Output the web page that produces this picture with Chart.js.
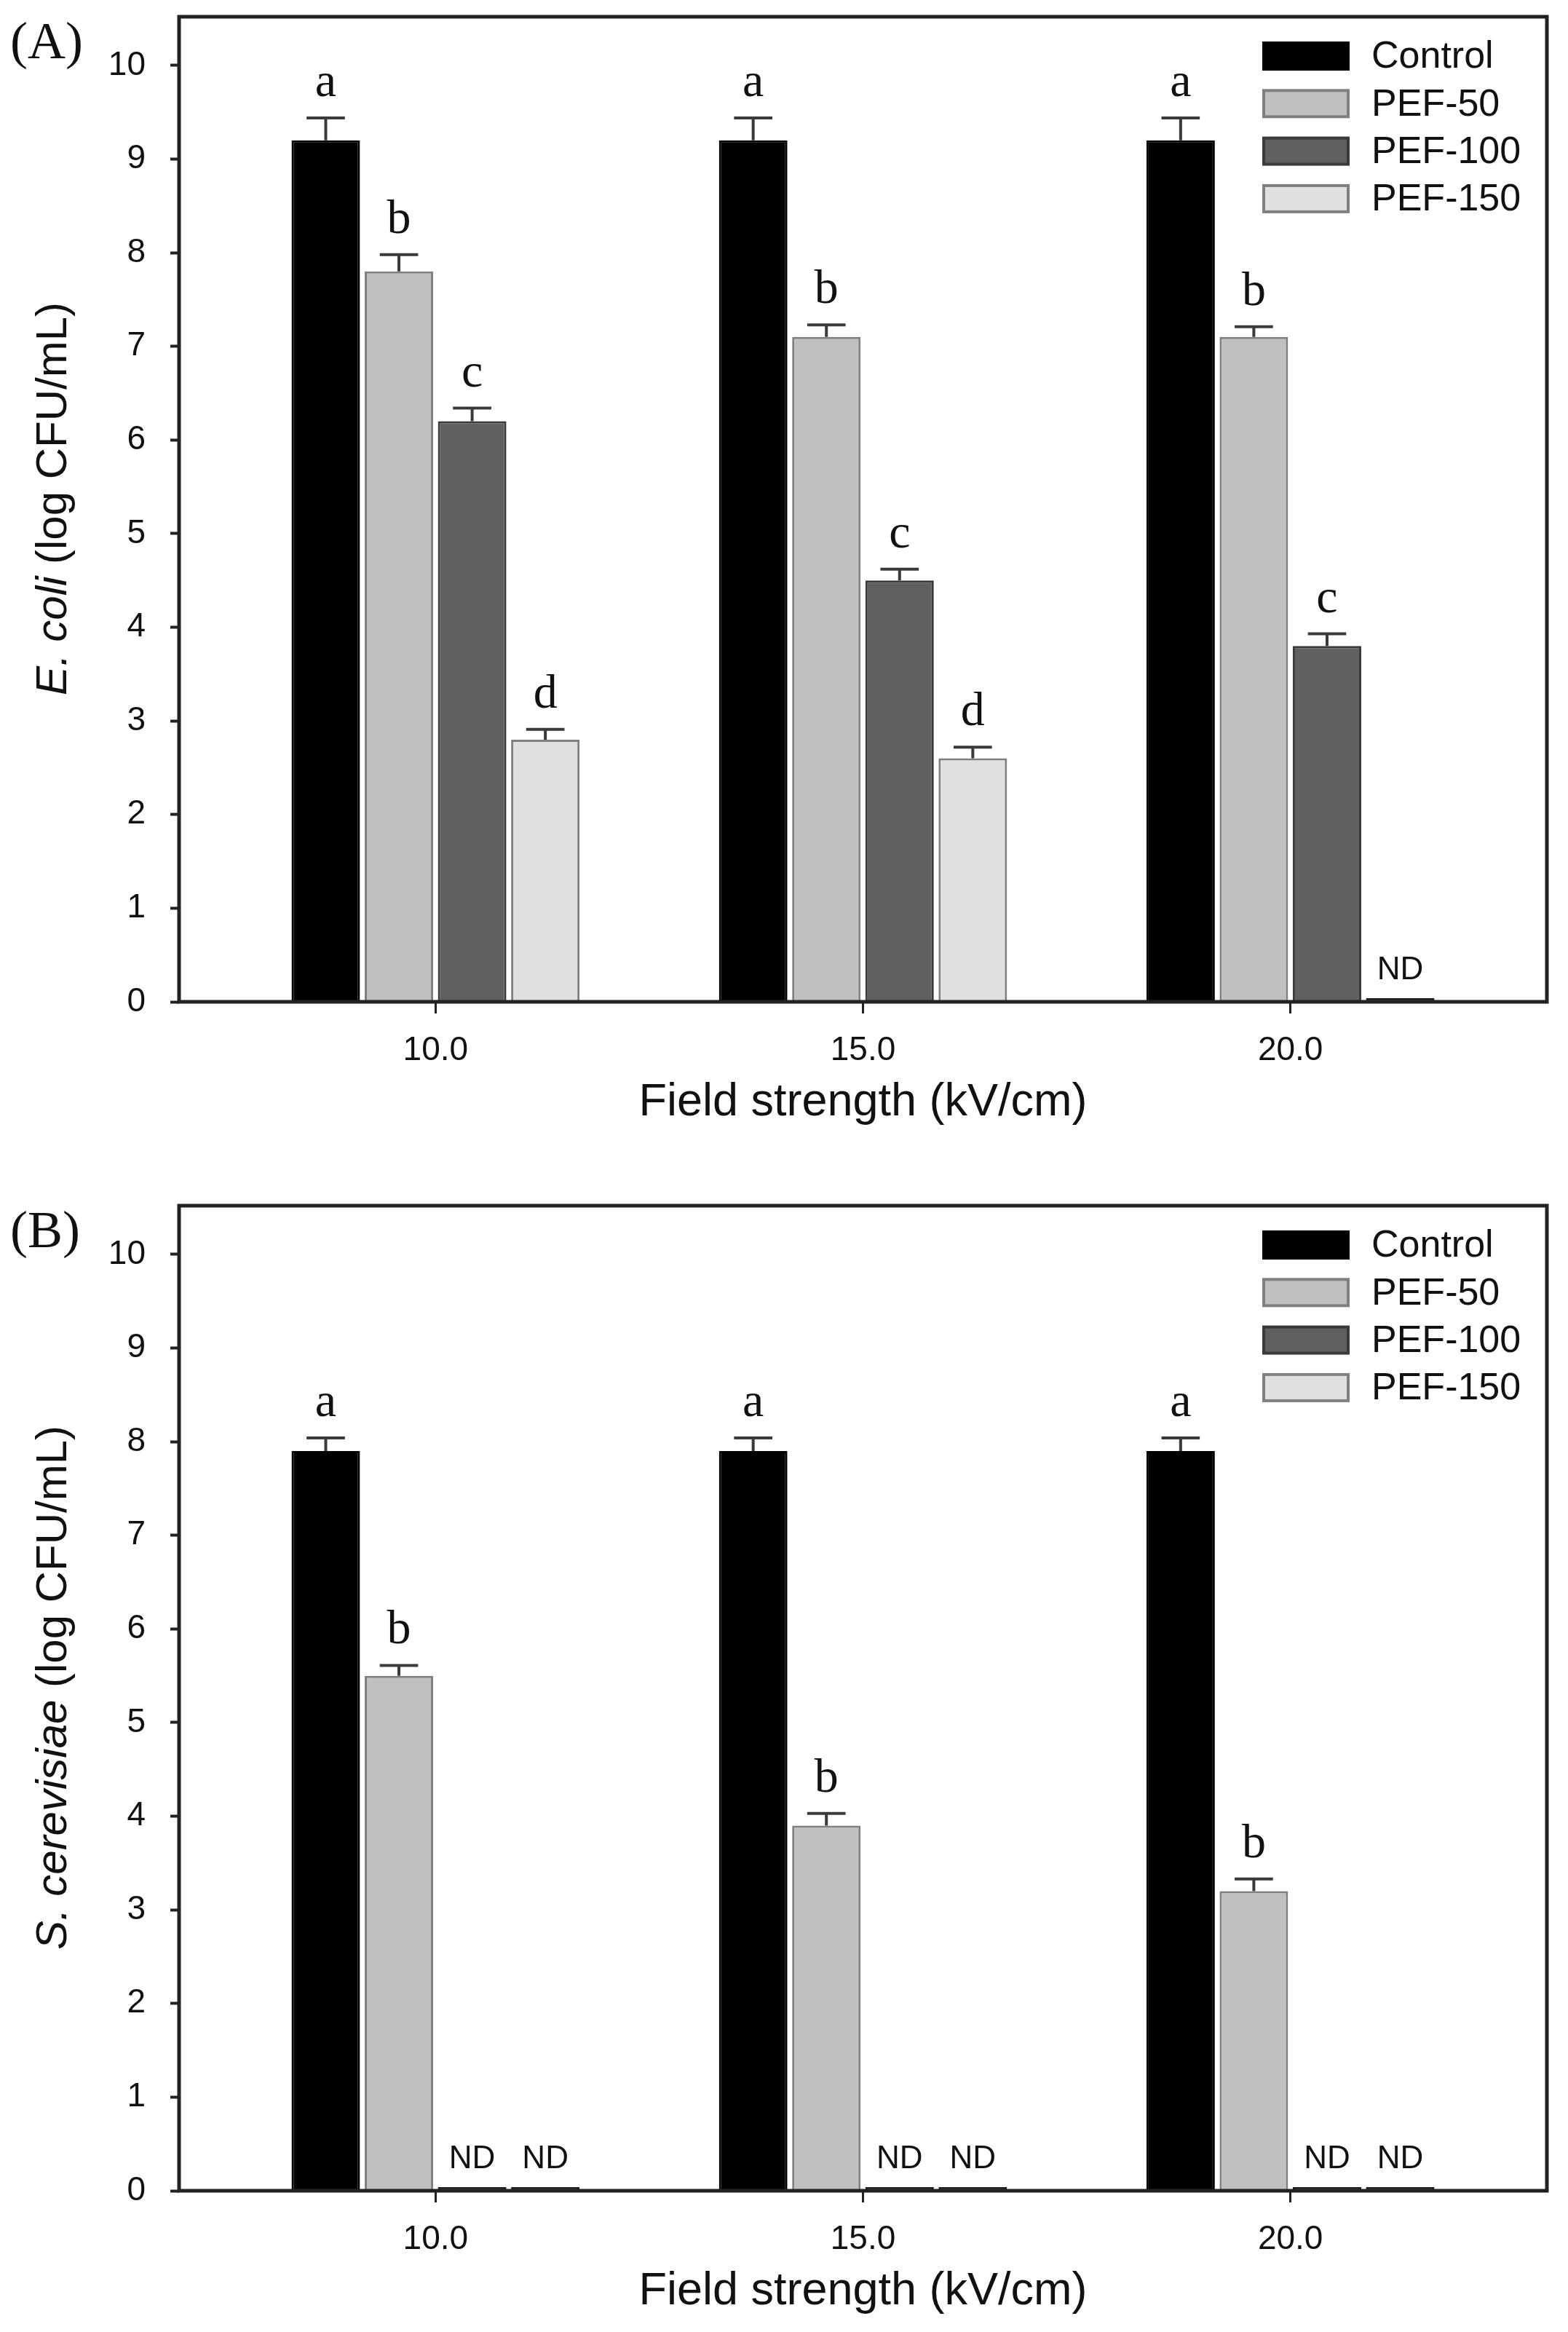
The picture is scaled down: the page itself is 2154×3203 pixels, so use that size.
<!DOCTYPE html>
<html>
<head>
<meta charset="utf-8">
<script src="https://cdn.jsdelivr.net/npm/chart.js@4.4.0/dist/chart.umd.min.js"></script>
<style>
  html, body { margin: 0; padding: 0; background: #fff; overflow: hidden; }
  canvas { position: absolute; left: 0; }
  #panelA { top: 0; }
  #panelB { top: 1633px; }
</style>
</head>
<body>
<canvas id="panelA" width="2154" height="1600"></canvas>
<canvas id="panelB" width="2154" height="1600"></canvas>
<script>
// ---- data ----
const fieldStrength = [10, 15, 20];          // kV/cm
const xTicks = [10, 15, 20];
const yTicks = [0, 1, 2, 3, 4, 5, 6, 7, 8, 9, 10];
const seriesNames = ['Control', 'PEF-50', 'PEF-100', 'PEF-150'];

// (A) E. coli, log CFU/mL  (0 = ND)
const ecoliControl = [9.2, 9.2, 9.2];
const ecoliPef50   = [7.8, 7.1, 7.1];
const ecoliPef100  = [6.2, 4.5, 3.8];
const ecoliPef150  = [2.8, 2.6, 0];
const ecoliControlErr = [0.24, 0.24, 0.24];
const ecoliPef50Err   = [0.18, 0.13, 0.11];
const ecoliPef100Err  = [0.14, 0.12, 0.13];
const ecoliPef150Err  = [0.11, 0.12, 0];
const ecoliControlLetters = ['a', 'a', 'a'];
const ecoliPef50Letters   = ['b', 'b', 'b'];
const ecoliPef100Letters  = ['c', 'c', 'c'];
const ecoliPef150Letters  = ['d', 'd', 'ND'];

// (B) S. cerevisiae, log CFU/mL  (0 = ND)
const yeastControl = [7.9, 7.9, 7.9];
const yeastPef50   = [5.5, 3.9, 3.2];
const yeastPef100  = [0, 0, 0];
const yeastPef150  = [0, 0, 0];
const yeastControlErr = [0.14, 0.14, 0.14];
const yeastPef50Err   = [0.11, 0.13, 0.13];
const yeastPef100Err  = [0, 0, 0];
const yeastPef150Err  = [0, 0, 0];
const yeastControlLetters = ['a', 'a', 'a'];
const yeastPef50Letters   = ['b', 'b', 'b'];
const yeastPef100Letters  = ['ND', 'ND', 'ND'];
const yeastPef150Letters  = ['ND', 'ND', 'ND'];

// ---- styles ----
const fills   = ['#000000', '#c0c0c0', '#606060', '#e0e0e0'];
const borders = ['#000000', '#7f7f7f', '#3a3a3a', '#7f7f7f'];
const ndColor = '#1c1c1c';
const SANS = "'Liberation Sans', Arial, sans-serif";
const SERIF = "'Liberation Serif', 'Times New Roman', serif";

Chart.defaults.font.family = SANS;
Chart.defaults.color = '#111';

function makeDatasets(values, errors, letters) {
    return seriesNames.map((name, i) => ({
        label: name,
        data: fieldStrength.map((x, j) => ({ x: x, y: values[i][j] })),
        errors: errors[i],
        letters: letters[i],
        backgroundColor: c => (c.parsed && c.parsed.y === 0) ? ndColor : fills[i],
        borderColor: c => (c.parsed && c.parsed.y === 0) ? ndColor : borders[i],
        borderWidth: 3,
        minBarLength: 5,
        categoryPercentage: 0.685,
        barPercentage: 0.935
    }));
}

// frame, error bars, letters, legend, y title, panel label
const decorPlugin = {
    id: 'decor',
    afterDatasetsDraw(chart, args, opts) {
        const ctx = chart.ctx;
        const area = chart.chartArea;
        const yScale = chart.scales.y;
        ctx.save();

        // error bars + letters
        chart.data.datasets.forEach((ds, i) => {
            const meta = chart.getDatasetMeta(i);
            meta.data.forEach((bar, j) => {
                const v = ds.data[j].y;
                const e = ds.errors[j];
                let top = yScale.getPixelForValue(v);
                if (v > 0 && e > 0) {
                    top = yScale.getPixelForValue(v + e);
                    const half = bar.width * 0.28;
                    ctx.strokeStyle = '#3a3a3a';
                    ctx.lineWidth = 4;
                    ctx.beginPath();
                    ctx.moveTo(bar.x, yScale.getPixelForValue(v));
                    ctx.lineTo(bar.x, top);
                    ctx.moveTo(bar.x - half, top);
                    ctx.lineTo(bar.x + half, top);
                    ctx.stroke();
                }
                const txt = ds.letters[j];
                ctx.fillStyle = '#111';
                ctx.textAlign = 'center';
                ctx.textBaseline = 'alphabetic';
                if (txt === 'ND') {
                    ctx.font = '44px ' + SANS;
                    ctx.fillText(txt, bar.x, yScale.getPixelForValue(0) - 31);
                } else {
                    ctx.font = '66px ' + SERIF;
                    ctx.fillText(txt, bar.x, top - 30);
                }
            });
        });

        // plot frame
        ctx.strokeStyle = '#222';
        ctx.lineWidth = 5;
        ctx.strokeRect(area.left, area.top, area.right - area.left, area.bottom - area.top);

        // legend
        ctx.font = '52px ' + SANS;
        ctx.textAlign = 'left';
        ctx.textBaseline = 'middle';
        seriesNames.forEach((name, i) => {
            const cy = 77 + i * 65.3;
            ctx.fillStyle = borders[i];
            ctx.fillRect(1734, cy - 20, 120, 40);
            ctx.fillStyle = fills[i];
            ctx.fillRect(1738, cy - 16, 112, 32);
            ctx.fillStyle = '#111';
            ctx.fillText(name, 1884, cy + 2);
        });

        // y axis title (italic organism name)
        ctx.save();
        ctx.translate(74, 685);
        ctx.rotate(-Math.PI / 2);
        ctx.textBaseline = 'middle';
        ctx.textAlign = 'left';
        ctx.font = 'italic 60px ' + SANS;
        const w1 = ctx.measureText(opts.yItalic).width;
        ctx.font = '60px ' + SANS;
        const w2 = ctx.measureText(opts.yRest).width;
        let x0 = -(w1 + w2) / 2;
        ctx.font = 'italic 60px ' + SANS;
        ctx.fillText(opts.yItalic, x0, 0);
        ctx.font = '60px ' + SANS;
        ctx.fillText(opts.yRest, x0 + w1, 0);
        ctx.restore();

        // panel label
        ctx.font = '72px ' + SERIF;
        ctx.textAlign = 'left';
        ctx.textBaseline = 'alphabetic';
        ctx.fillStyle = '#111';
        ctx.fillText(opts.panelLabel, 14, 80);

        ctx.restore();
    }
};

function makeChart(id, datasets, panelLabel, yItalic, yRest) {
    return new Chart(document.getElementById(id), {
        type: 'bar',
        data: { datasets: datasets },
        plugins: [decorPlugin],
        options: {
            responsive: false,
            animation: false,
            devicePixelRatio: 1,
            layout: { padding: { left: 0, right: 29, top: 23, bottom: 0 } },
            plugins: {
                legend: { display: false },
                tooltip: { enabled: false },
                decor: { panelLabel: panelLabel, yItalic: yItalic, yRest: yRest }
            },
            scales: {
                x: {
                    type: 'linear',
                    min: 7,
                    max: 23,
                    offset: false,
                    afterBuildTicks: axis => { axis.ticks = xTicks.map(v => ({ value: v })); },
                    afterFit: s => { s.height = 224; s.paddingLeft = 0; s.paddingRight = 0; },
                    border: { display: false },
                    grid: { offset: false, drawOnChartArea: false, drawTicks: true, tickLength: 16, tickWidth: 3, tickColor: '#222' },
                    ticks: {
                        padding: 24,
                        font: { size: 46 },
                        color: '#111',
                        callback: v => Number(v).toFixed(1)
                    },
                    title: {
                        display: true,
                        text: 'Field strength (kV/cm)',
                        font: { size: 63 },
                        color: '#111',
                        padding: { top: 0, bottom: 48 }
                    }
                },
                y: {
                    min: 0,
                    max: 10.52,
                    afterBuildTicks: axis => { axis.ticks = yTicks.map(v => ({ value: v })); },
                    afterFit: s => { s.width = 246; s.paddingTop = 0; s.paddingBottom = 0; },
                    border: { display: false },
                    grid: { drawOnChartArea: false, drawTicks: true, tickLength: 12, tickWidth: 4, tickColor: '#222' },
                    ticks: { padding: 34, font: { size: 46 }, color: '#111' }
                }
            }
        }
    });
}

makeChart('panelA',
    makeDatasets([ecoliControl, ecoliPef50, ecoliPef100, ecoliPef150],
                 [ecoliControlErr, ecoliPef50Err, ecoliPef100Err, ecoliPef150Err],
                 [ecoliControlLetters, ecoliPef50Letters, ecoliPef100Letters, ecoliPef150Letters]),
    '(A)', 'E. coli', ' (log CFU/mL)');

makeChart('panelB',
    makeDatasets([yeastControl, yeastPef50, yeastPef100, yeastPef150],
                 [yeastControlErr, yeastPef50Err, yeastPef100Err, yeastPef150Err],
                 [yeastControlLetters, yeastPef50Letters, yeastPef100Letters, yeastPef150Letters]),
    '(B)', 'S. cerevisiae', ' (log CFU/mL)');
</script>
</body>
</html>
